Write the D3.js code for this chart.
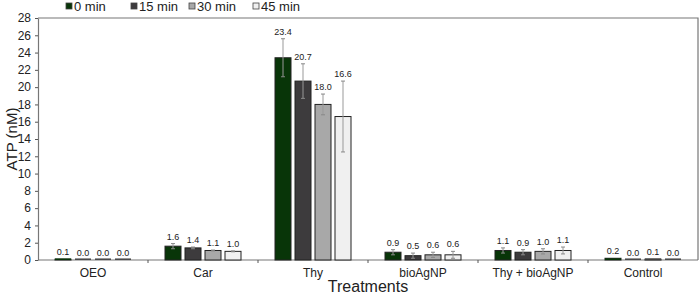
<!DOCTYPE html>
<html>
<head>
<meta charset="utf-8">
<script src="https://cdn.jsdelivr.net/npm/d3@7"></script>
<style>
  body { margin: 0; background: #fff; }
  svg { font-family: "Liberation Sans", Arial, sans-serif; }
</style>
</head>
<body>
<svg id="chart"></svg>
<script>
// data
const treatments = ['OEO', 'Car', 'Thy', 'bioAgNP', 'Thy + bioAgNP', 'Control'];
const times = ['0 min', '15 min', '30 min', '45 min'];
const values = [
    [0.1, 0.0, 0.0, 0.0],
    [1.6, 1.4, 1.1, 1.0],
    [23.4, 20.7, 18.0, 16.6],
    [0.9, 0.5, 0.6, 0.6],
    [1.1, 0.9, 1.0, 1.1],
    [0.2, 0.0, 0.1, 0.0]
];
const errors = [
    [0.0, 0.0, 0.0, 0.0],
    [0.3, 0.1, 0.05, 0.05],
    [2.2, 2.0, 1.2, 4.1],
    [0.3, 0.3, 0.3, 0.4],
    [0.3, 0.3, 0.3, 0.4],
    [0.0, 0.0, 0.0, 0.0]
];
const yTicks = d3.range(0, 29, 2);
const colors = ['#083508', '#3d3b3d', '#a8a8a8', '#f0f0f0'];

const width = 700, height = 296;
const margin = { top: 18, right: 2, bottom: 36, left: 38 };
const innerW = width - margin.left - margin.right;
const innerH = height - margin.top - margin.bottom;

const svg = d3.select('#chart').attr('width', width).attr('height', height);
const chart = svg.append('g').attr('transform', `translate(${margin.left}, ${margin.top})`);

const xscale = d3.scaleBand().domain(treatments).range([0, innerW]);
const xinner = d3.scaleBand().domain(times)
    .range([xscale.bandwidth() / 2 - 40, xscale.bandwidth() / 2 + 40])
    .paddingInner(0.2).paddingOuter(0.1);
const yscale = d3.scaleLinear().domain([0, 28]).range([innerH, 0]);

// frame (top and right)
chart.append('path')
    .attr('d', `M0,0H${innerW}V${innerH}`)
    .attr('fill', 'none')
    .attr('stroke', '#777')
    .attr('stroke-width', 1.2);

// y axis
const yaxis = d3.axisLeft(yscale).tickValues(yTicks).tickSize(3).tickSizeOuter(0).tickPadding(4);
const yg = chart.append('g').call(yaxis);
yg.select('.domain').attr('stroke', '#777').attr('stroke-width', 1.2);
yg.selectAll('.tick line').attr('stroke', '#555');
yg.selectAll('.tick text').attr('font-size', 12).attr('fill', '#222')
    .attr('font-family', '"Liberation Sans", Arial, sans-serif');

// x axis
const xg = chart.append('g').attr('transform', `translate(0, ${innerH})`);
xg.append('line').attr('x1', 0).attr('x2', innerW).attr('stroke', '#777').attr('stroke-width', 1.2);
xg.selectAll('.xtick')
    .data(treatments.slice(1))
    .join('line')
    .attr('x1', d => xscale(d)).attr('x2', d => xscale(d))
    .attr('y1', 0).attr('y2', 3)
    .attr('stroke', '#555');
xg.selectAll('.xlabel')
    .data(treatments)
    .join('text')
    .attr('x', d => xscale(d) + xscale.bandwidth() / 2)
    .attr('y', 17)
    .attr('text-anchor', 'middle')
    .attr('font-size', 12)
    .attr('fill', '#222')
    .text(d => d);

// bars
const rows = [];
treatments.forEach((t, i) => times.forEach((m, j) => {
    rows.push({ t, m, j, v: values[i][j], e: errors[i][j] });
}));

const groups = chart.selectAll('.grp')
    .data(rows)
    .join('g')
    .attr('transform', d => `translate(${xscale(d.t) + xinner(d.m)}, 0)`);

groups.append('rect')
    .attr('x', 0)
    .attr('width', xinner.bandwidth())
    .attr('y', d => yscale(d.v))
    .attr('height', d => Math.max(0, innerH - yscale(d.v)))
    .attr('fill', d => colors[d.j])
    .attr('stroke', '#222')
    .attr('stroke-width', 1);

// small base line for zero values
groups.filter(d => d.v <= 0.2)
    .append('line')
    .attr('x1', 0).attr('x2', xinner.bandwidth())
    .attr('y1', innerH - 0.8).attr('y2', innerH - 0.8)
    .attr('stroke', d => d.j === 0 ? colors[0] : '#444')
    .attr('stroke-width', 1.5);

const bw = xinner.bandwidth();
const eb = groups.filter(d => d.e > 0);
eb.append('line')
    .attr('x1', bw / 2).attr('x2', bw / 2)
    .attr('y1', d => yscale(d.v - d.e)).attr('y2', d => yscale(d.v + d.e))
    .attr('stroke', '#999');
eb.append('line')
    .attr('x1', bw / 2 - 2).attr('x2', bw / 2 + 2)
    .attr('y1', d => yscale(d.v + d.e)).attr('y2', d => yscale(d.v + d.e))
    .attr('stroke', '#888');
eb.append('line')
    .attr('x1', bw / 2 - 2).attr('x2', bw / 2 + 2)
    .attr('y1', d => yscale(d.v - d.e)).attr('y2', d => yscale(d.v - d.e))
    .attr('stroke', '#888');

groups.append('text')
    .attr('x', bw / 2)
    .attr('y', d => yscale(d.v + d.e) - 4)
    .attr('text-anchor', 'middle')
    .attr('font-size', 9)
    .attr('fill', '#222')
    .text(d => d.v.toFixed(1));

// axis titles
svg.append('text')
    .attr('transform', `translate(17, ${margin.top + innerH / 2}) rotate(-90)`)
    .attr('text-anchor', 'middle')
    .attr('font-size', 15)
    .attr('fill', '#222')
    .text('ATP (nM)');

svg.append('text')
    .attr('x', margin.left + innerW / 2)
    .attr('y', 292)
    .attr('text-anchor', 'middle')
    .attr('font-size', 16)
    .attr('fill', '#222')
    .text('Treatments');

// legend
const legendX = [66, 131, 189, 253];
const lg = svg.selectAll('.legend')
    .data(times)
    .join('g')
    .attr('transform', (d, i) => `translate(${legendX[i]}, 6)`);
lg.append('rect')
    .attr('x', 0).attr('y', -3)
    .attr('width', 6).attr('height', 6)
    .attr('fill', (d, i) => colors[i])
    .attr('stroke', '#444')
    .attr('stroke-width', 0.8);
lg.append('text')
    .attr('x', 8).attr('y', 4.5)
    .attr('font-size', 13)
    .attr('fill', '#222')
    .text(d => d);
</script>
</body>
</html>
